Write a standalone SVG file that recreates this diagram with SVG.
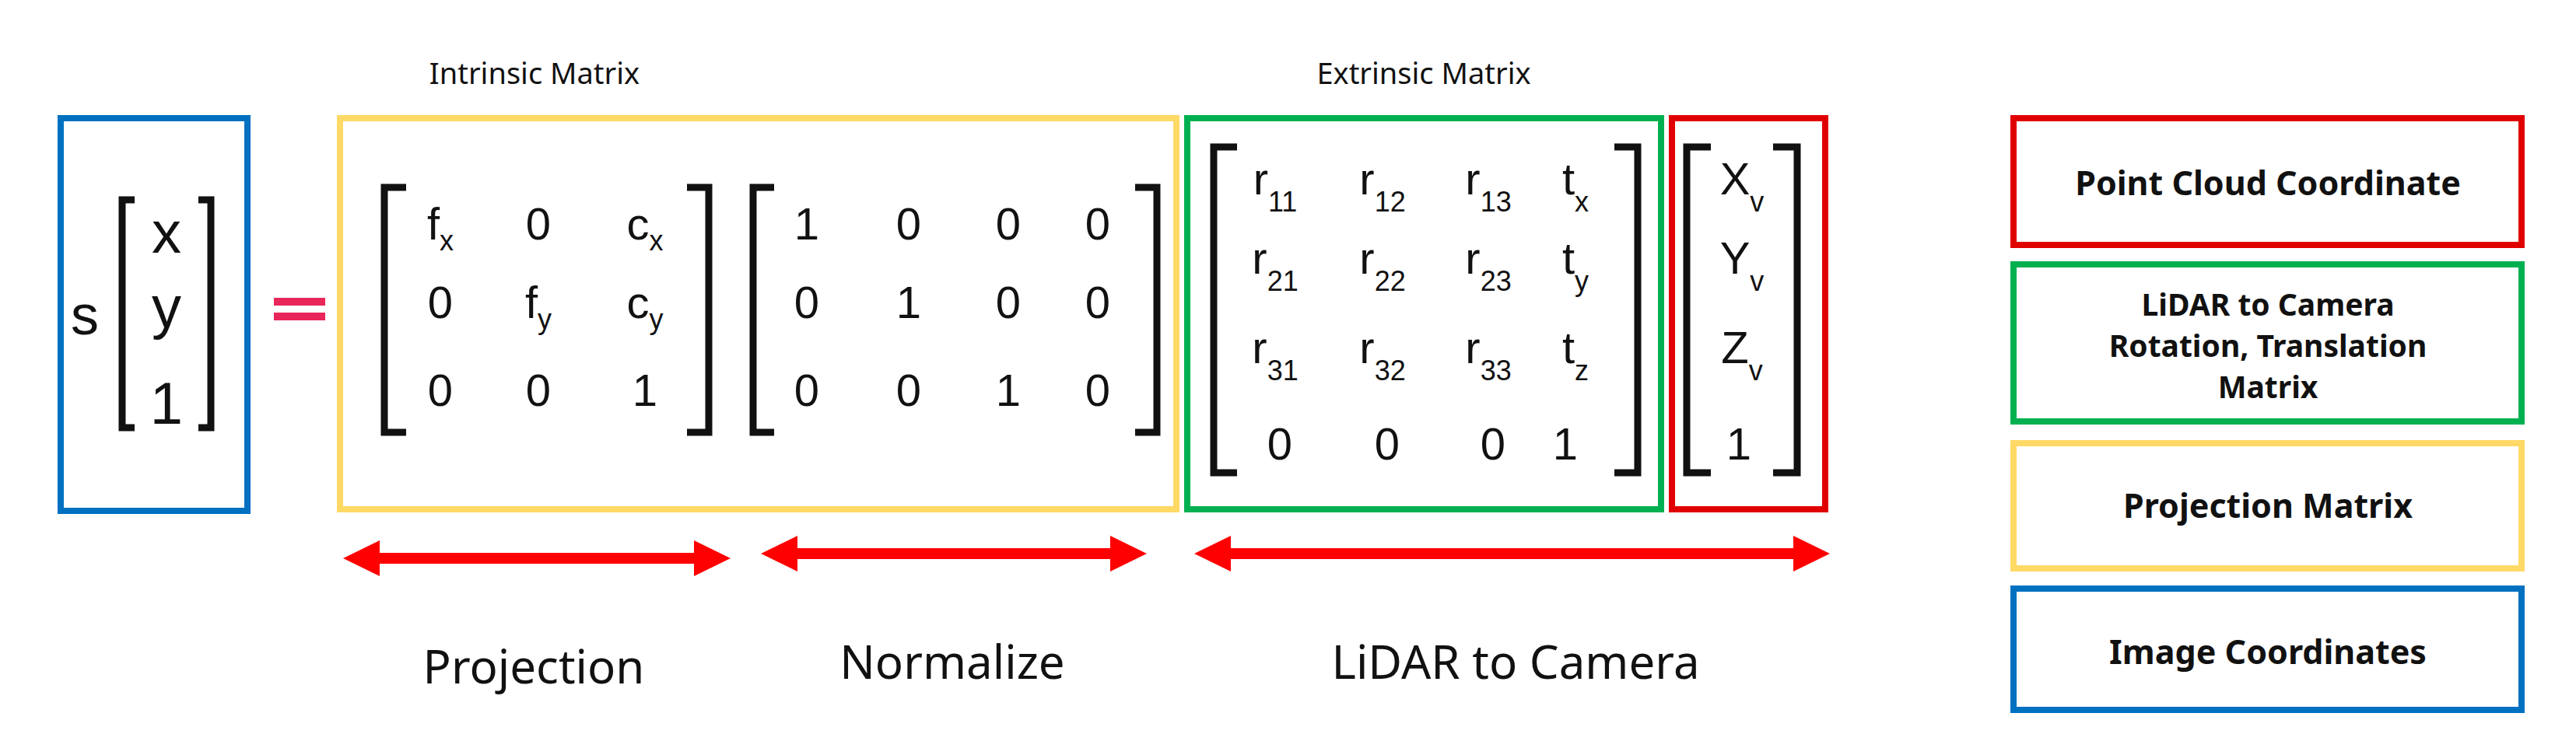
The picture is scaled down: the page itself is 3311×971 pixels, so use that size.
<svg xmlns="http://www.w3.org/2000/svg" width="3311" height="971" viewBox="0 0 3311 971">
<style>
.box{fill:none;stroke-width:8}
.br{fill:none;stroke:#111;stroke-width:9}
.m{font-family:"Liberation Sans",Arial,sans-serif;font-size:58px;fill:#111;text-anchor:middle}
.sub{font-size:36px}
.lbl{font-family:"Noto Sans","Open Sans",sans-serif;fill:#111;text-anchor:middle}
.leg{font-family:"Noto Sans","Open Sans",sans-serif;font-weight:bold;font-size:43px;fill:#111;text-anchor:middle}
.leg2{font-size:39px}
.arr{fill:#ff0000}
</style>
<rect width="3311" height="971" fill="#fff"/>
<text class="lbl" x="687" y="108" font-size="38">Intrinsic Matrix</text>
<text class="lbl" x="1830" y="108" font-size="38">Extrinsic Matrix</text>

<g id="image-coords">
<rect class="box" x="78" y="152" width="240" height="505" stroke="#0070c0"/>
<text class="m" x="109" y="430" style="font-size:72px">s</text>
<path class="br" d="M173,257 H157 V550 H173 M255,257 H271 V550 H255"/>
<text class="m" x="214" y="325" style="font-size:76px">x</text>
<text class="m" x="214" y="421" style="font-size:76px">y</text>
<text class="m" x="214" y="545" style="font-size:76px">1</text>
</g>
<g id="equals">
<rect x="352" y="383" width="66" height="10" fill="#e8265a"/>
<rect x="352" y="402" width="66" height="10" fill="#e8265a"/>
</g>

<g id="projection-matrix">
<rect class="box" x="437" y="152" width="1075" height="503" stroke="#ffd966"/>
<path class="br" d="M522,241 H494 V556 H522 M883,241 H911 V556 H883"/>
<text class="m" x="566" y="308">f<tspan class="sub" dy="14">x</tspan></text>
<text class="m" x="692" y="308">0</text>
<text class="m" x="829" y="308">c<tspan class="sub" dy="14">x</tspan></text>
<text class="m" x="566" y="409">0</text>
<text class="m" x="692" y="409">f<tspan class="sub" dy="14">y</tspan></text>
<text class="m" x="829" y="409">c<tspan class="sub" dy="14">y</tspan></text>
<text class="m" x="566" y="522">0</text>
<text class="m" x="692" y="522">0</text>
<text class="m" x="829" y="522">1</text>
<path class="br" d="M995,241 H968 V556 H995 M1459,241 H1487 V556 H1459"/>
<text class="m" x="1037" y="308">1</text><text class="m" x="1168" y="308">0</text><text class="m" x="1296" y="308">0</text><text class="m" x="1411" y="308">0</text>
<text class="m" x="1037" y="409">0</text><text class="m" x="1168" y="409">1</text><text class="m" x="1296" y="409">0</text><text class="m" x="1411" y="409">0</text>
<text class="m" x="1037" y="522">0</text><text class="m" x="1168" y="522">0</text><text class="m" x="1296" y="522">1</text><text class="m" x="1411" y="522">0</text>
</g>

<g id="extrinsic-matrix">
<rect class="box" x="1526" y="152" width="609" height="503" stroke="#00b050"/>
<path class="br" d="M1590,189 H1560 V608 H1590 M2075,189 H2105 V608 H2075"/>
<text class="m" x="1639" y="250">r<tspan class="sub" dy="22">11</tspan></text>
<text class="m" x="1777" y="250">r<tspan class="sub" dy="22">12</tspan></text>
<text class="m" x="1913" y="250">r<tspan class="sub" dy="22">13</tspan></text>
<text class="m" x="2025" y="250">t<tspan class="sub" dy="22">x</tspan></text>
<text class="m" x="1639" y="352">r<tspan class="sub" dy="22">21</tspan></text>
<text class="m" x="1777" y="352">r<tspan class="sub" dy="22">22</tspan></text>
<text class="m" x="1913" y="352">r<tspan class="sub" dy="22">23</tspan></text>
<text class="m" x="2025" y="352">t<tspan class="sub" dy="22">y</tspan></text>
<text class="m" x="1639" y="467">r<tspan class="sub" dy="22">31</tspan></text>
<text class="m" x="1777" y="467">r<tspan class="sub" dy="22">32</tspan></text>
<text class="m" x="1913" y="467">r<tspan class="sub" dy="22">33</tspan></text>
<text class="m" x="2025" y="467">t<tspan class="sub" dy="22">z</tspan></text>
<text class="m" x="1645" y="591">0</text><text class="m" x="1783" y="591">0</text><text class="m" x="1919" y="591">0</text><text class="m" x="2012" y="591">1</text>
</g>

<g id="point-cloud">
<rect class="box" x="2149" y="152" width="197" height="503" stroke="#e00000"/>
<path class="br" d="M2199,189 H2168 V608 H2199 M2279,189 H2310 V608 H2279"/>
<text class="m" x="2239" y="250">X<tspan class="sub" dy="22">v</tspan></text>
<text class="m" x="2239" y="352">Y<tspan class="sub" dy="22">v</tspan></text>
<text class="m" x="2239" y="467">Z<tspan class="sub" dy="22">v</tspan></text>
<text class="m" x="2235" y="591">1</text>
</g>

<g id="connectors">
<path class="arr" d="M441,718 L488,695 V711 H892 V695 L939,718 L892,741 V725 H488 V741 Z"/>
<path class="arr" d="M978,712 L1025,689 V705 H1427 V689 L1474,712 L1427,735 V719 H1025 V735 Z"/>
<path class="arr" d="M1535,712 L1582,689 V705 H2305 V689 L2352,712 L2305,735 V719 H1582 V735 Z"/>
</g>

<g id="labels">
<text class="lbl" x="686" y="879" font-size="60">Projection</text>
<text class="lbl" x="1224" y="873" font-size="60">Normalize</text>
<text class="lbl" x="1948" y="873" font-size="60">LiDAR to Camera</text>
</g>

<g id="legend-point-cloud">
<rect class="box" x="2588" y="152" width="653" height="163" stroke="#e00000"/>
<text class="leg" x="2915" y="251">Point Cloud Coordinate</text>
</g>
<g id="legend-lidar">
<rect class="box" x="2588" y="340" width="653" height="202" stroke="#00b050"/>
<text class="leg leg2" x="2915" y="406">LiDAR to Camera</text>
<text class="leg leg2" x="2915" y="459">Rotation, Translation</text>
<text class="leg leg2" x="2915" y="512">Matrix</text>
</g>
<g id="legend-projection">
<rect class="box" x="2588" y="570" width="653" height="161" stroke="#ffd966"/>
<text class="leg" x="2915" y="666">Projection Matrix</text>
</g>
<g id="legend-image">
<rect class="box" x="2588" y="757" width="653" height="156" stroke="#0070c0"/>
<text class="leg" x="2915" y="854">Image Coordinates</text>
</g>
</svg>
